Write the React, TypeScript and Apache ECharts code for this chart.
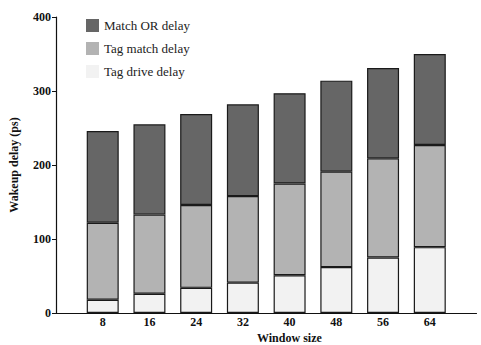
import React, { useEffect, useRef } from "react";
import * as echarts from "echarts";

const windowSizes = ["8", "16", "24", "32", "40", "48", "56", "64"];
const tagDriveDelay = [18, 26, 34, 41, 51, 62, 75, 89];
const tagMatchDelay = [104, 107, 112, 117, 124, 129, 134, 138];
const matchOrDelay = [124, 122, 123, 124, 122, 123, 122, 123];
const seriesNames = ["Match OR delay", "Tag match delay", "Tag drive delay"];

const FONT = "Liberation Serif";

export default function App() {
  const ref = useRef<HTMLDivElement>(null);
  useEffect(() => {
    if (!ref.current) return;
    const chart = echarts.init(ref.current, undefined, { renderer: "svg" });
    // pad with an empty slot at each end of the axis (window 0 and 72 positions)
    const cats = ["", ...windowSizes, " "];
    const pad = (arr: number[]) => ["-", ...arr, "-"];
    const barCommon = {
      type: "bar" as const,
      stack: "total",
      barWidth: 32,
    };
    const border = { borderColor: "#1a1a1a", borderWidth: 1.2 };
    chart.setOption({
      animation: false,
      backgroundColor: "#ffffff",
      grid: { left: 55, right: 0, top: 17, bottom: 32, containLabel: false },
      legend: {
        orient: "vertical",
        left: 81,
        top: 14,
        itemWidth: 13,
        itemHeight: 13,
        itemGap: 10,
        icon: "rect",
        data: seriesNames,
        textStyle: { fontFamily: FONT, fontSize: 13, color: "#222" },
        itemStyle: { borderWidth: 0 },
      },
      xAxis: {
        type: "category",
        data: cats,
        boundaryGap: false,
        splitLine: { show: false },
        axisTick: { show: false },
        axisLine: { lineStyle: { color: "#111", width: 1.2 } },
        axisLabel: {
          margin: 3,
          interval: 0,
          fontFamily: FONT,
          fontWeight: "bold",
          fontSize: 12,
          color: "#111",
        },
      },
      yAxis: {
        type: "value",
        min: 0,
        max: 400,
        interval: 100,
        name: "Wakeup delay (ps)",
        nameLocation: "middle",
        nameGap: 36,
        nameTextStyle: { fontFamily: FONT, fontWeight: "bold", fontSize: 12, color: "#111" },
        splitLine: { show: false },
        axisLine: { show: true, lineStyle: { color: "#111", width: 1.2 } },
        axisTick: { show: true, length: 4, lineStyle: { color: "#111" } },
        axisLabel: {
          margin: 5,
          fontFamily: FONT,
          fontWeight: "bold",
          fontSize: 12,
          color: "#111",
        },
      },
      graphic: [
        {
          type: "text",
          left: 257,
          top: 332,
          style: {
            text: "Window size",
            fontFamily: FONT,
            fontWeight: "bold",
            fontSize: 12,
            fill: "#111",
          },
        },
      ],
      series: [
        { ...barCommon, name: seriesNames[2], data: pad(tagDriveDelay), itemStyle: { ...border, color: "#f2f2f2" } },
        { ...barCommon, name: seriesNames[1], data: pad(tagMatchDelay), itemStyle: { ...border, color: "#b3b3b3" } },
        { ...barCommon, name: seriesNames[0], data: pad(matchOrDelay), itemStyle: { ...border, color: "#666666" } },
      ],
    });
    return () => chart.dispose();
  }, []);
  return (
    <div
      ref={ref}
      style={{ position: "fixed", left: 0, top: 0, width: 481, height: 345, background: "#fff" }}
    />
  );
}
